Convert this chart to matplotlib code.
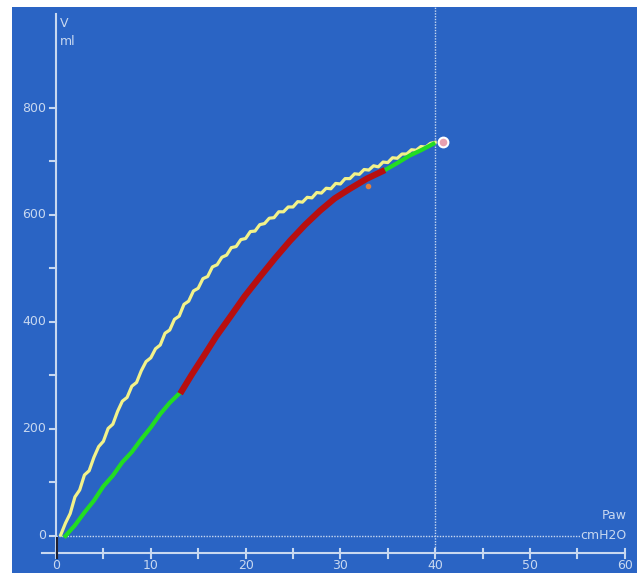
import numpy as np
import matplotlib.pyplot as plt

# pressure-volume loop (Paw in cmH2O, V in ml)
insp_paw = [0.5, 1.0, 1.5, 2.0, 2.5, 3.0, 3.5, 4.0, 4.5, 5.0, 5.5, 6.0, 6.5, 7.0, 7.5,
            8.0, 8.5, 9.0, 9.5, 10.0, 10.5, 11.0, 11.5, 12.0, 12.5, 13.0, 13.5, 14.0,
            14.5, 15.0, 15.5, 16.0, 16.5, 17.0, 17.5, 18.0, 18.5, 19.0, 19.5, 20.0,
            20.5, 21.0, 21.5, 22.0, 22.5, 23.0, 23.5, 24.0, 24.5, 25.0, 25.5, 26.0,
            26.5, 27.0, 27.5, 28.0, 28.5, 29.0, 29.5, 30.0, 30.5, 31.0, 31.5, 32.0,
            32.5, 33.0, 33.5, 34.0, 34.5, 35.0, 35.5, 36.0, 36.5, 37.0, 37.5, 38.0,
            38.5, 39.0, 39.5, 40.0]
insp_vol = [2, 24, 42, 73, 86, 114, 122, 147, 167, 177, 201, 209, 233, 252, 259,
            280, 287, 309, 326, 333, 350, 357, 379, 385, 405, 411, 433, 439,
            458, 463, 481, 485, 503, 507, 521, 525, 539, 541, 554, 556,
            569, 570, 582, 584, 594, 595, 606, 606, 615, 615, 625, 624,
            633, 632, 642, 641, 650, 649, 659, 658, 668, 668, 677, 676,
            685, 684, 692, 690, 699, 698, 707, 706, 714, 714, 722, 721,
            728, 727, 734, 736]

exp_paw = [1.0, 2.0, 3.0, 4.0, 5.0, 6.0, 7.0, 8.0, 9.0, 10.0, 11.0, 12.0, 13.1,
           14.3, 15.54, 16.9, 18.35, 19.9, 21.5, 23.1, 24.7, 26.3, 27.85, 29.4,
           31.0, 32.8, 34.7, 36.0, 37.3, 38.5, 39.8]
exp_vol = [0, 20, 44, 66, 93, 113, 138, 157, 181, 203, 228, 249, 268,
           300, 334, 372, 408, 447, 483, 519, 551, 582, 607, 630,
           648, 667, 684, 697, 711, 721, 733]

fit_paw = [13.1, 14.3, 15.54, 16.9, 18.35, 19.9, 21.5, 23.1, 24.7, 26.3, 27.85,
           29.4, 31.0, 32.8, 34.7]
fit_vol = [266, 301, 335, 373, 409, 448, 484, 519, 552, 582, 608,
           631, 649, 668, 684]

peak_paw, peak_vol = 40.8, 736
mark_paw, mark_vol = 32.9, 655

x_major = [0, 10, 20, 30, 40, 50, 60]
x_minor = [5, 15, 25, 35, 45, 55]
y_major = [0, 200, 400, 600, 800]
y_minor = [100, 300, 500, 700]

bg = '#2a64c4'
fg = '#c8d8f0'

fig = plt.figure(figsize=(6.37, 5.75), dpi=100)
ax = fig.add_axes([12 / 637, 2 / 575, 625 / 637, 566 / 575])
ax.set_facecolor(bg)
ax.set_xlim(-4.64, 61.29)
ax.set_ylim(-69.2, 988.8)
for s in ax.spines.values():
    s.set_visible(False)
ax.set_xticks([])
ax.set_yticks([])

x_axis_y = -31.8

# axes lines
ax.plot([0, 0], [x_axis_y, 975], color=fg, lw=1.5, zorder=2)
ax.plot([-1.5, 60], [x_axis_y, x_axis_y], color=fg, lw=1.5, zorder=2)
ax.plot([0, 60], [0, 0], color=fg, lw=1, ls=(0, (1, 1)), zorder=2)
ax.plot([40, 40], [x_axis_y, 988], color=fg, lw=1, ls=(0, (1, 1)), zorder=2)
ax.plot([0.15, 0.15], [x_axis_y - 10, -4], color='#202030', lw=1.5, zorder=3)

for xv in x_major + x_minor:
    ax.plot([xv, xv], [x_axis_y - 9, x_axis_y + 8], color=fg, lw=1.5, zorder=2)
for xv in x_major:
    ax.text(xv, -56, str(xv), color=fg, fontsize=9, ha='center', va='center')
for yv in y_major + y_minor:
    ax.plot([-0.65, 0], [yv, yv], color=fg, lw=1.5, zorder=2)
for yv in y_major:
    ax.text(-1.05, yv, str(yv), color=fg, fontsize=9, ha='right', va='center')

ax.text(0.45, 958, 'V', color=fg, fontsize=9, ha='left', va='center')
ax.text(0.45, 925, 'ml', color=fg, fontsize=9, ha='left', va='center')
ax.text(60.2, 38, 'Paw', color=fg, fontsize=9, ha='right', va='center')
ax.text(60.2, 0, 'cmH2O', color=fg, fontsize=9, ha='right', va='center',
        bbox=dict(facecolor=bg, edgecolor='none', pad=0.5))

# curves
ax.plot(insp_paw, insp_vol, color='#f2f28a', lw=2.3, zorder=3)
ax.plot(exp_paw, exp_vol, color='#22dd22', lw=3, zorder=4)
ax.plot(fit_paw, fit_vol, color='#b80f0f', lw=4.5, solid_capstyle='butt', zorder=5)
ax.plot([mark_paw], [mark_vol], 'o', ms=3, color='#e08040', zorder=4)
ax.plot([peak_paw], [peak_vol], 'o', ms=7, mfc='#e8a0b0', mec='white', mew=1.5, zorder=6)

fig.savefig('out.png', dpi=100, facecolor='white')
